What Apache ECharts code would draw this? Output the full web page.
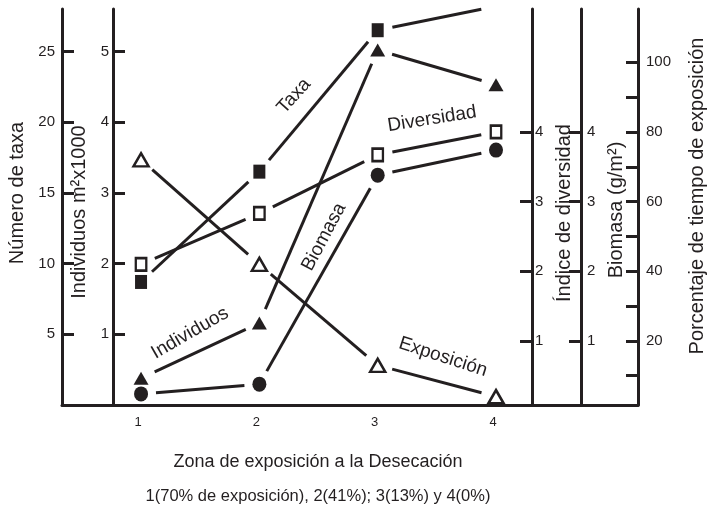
<!DOCTYPE html>
<html>
<head>
<meta charset="utf-8">
<script src="https://cdn.jsdelivr.net/npm/echarts@6/dist/echarts.min.js"></script>
<style>
  html, body { margin: 0; padding: 0; background: #fff; }
  #chart { width: 709px; height: 508px; }
</style>
</head>
<body>
<div id="chart"></div>
<script>
// Zonas de exposición (eje x)
const zonas = [1, 2, 3, 4];

// Valores
const taxa = [8.7, 16.5, 26.5, 28.2];          // Número de taxa
const individuos = [0.38, 1.16, 5.02, 4.53];   // Individuos m2 x1000
const diversidad = [2.1, 2.83, 3.67, 4.0];     // Índice de diversidad
const biomasa = [0.24, 0.38, 3.38, 3.74];      // Biomasa (g/m2)
const exposicion = [72, 42, 13, 4];            // % tiempo de exposición

// Marcas de los ejes
const taxaTicks = [5, 10, 15, 20, 25];
const individuosTicks = [1, 2, 3, 4, 5];
const diversidadTicks = [1, 2, 3, 4];
const biomasaTicks = [1, 2, 3, 4];
const exposicionTicks = [10, 20, 30, 40, 50, 60, 70, 80, 90, 100];
const exposicionLabels = [20, 40, 60, 80, 100];

const ink = '#231f20';
const font = '"Liberation Sans", Arial, Helvetica, sans-serif';
const GAP = 15; // lines stop short of the markers

const chart = echarts.init(document.getElementById('chart'));

const pairs = values => zonas.map((z, i) => [z, values[i]]);

// one entry per plotted set: values, y axis, marker shape/size, filled or open
const sets = [
  { name: 'Taxa', values: taxa, y: 0, symbol: 'rect', size: [12, 14], filled: true },
  { name: 'Individuos', values: individuos, y: 1, symbol: 'triangle', size: [15, 13], filled: true },
  { name: 'Diversidad', values: diversidad, y: 2, symbol: 'rect', size: [10.5, 12.5], filled: false },
  { name: 'Biomasa', values: biomasa, y: 3, symbol: 'circle', size: [14, 15], filled: true },
  { name: 'Exposición', values: exposicion, y: 4, symbol: 'triangle', size: [15, 13], filled: false }
];

// segment from point i to point i+1, shortened at both ends
const renderSegment = (params, api) => {
  const j = params.dataIndexInside + 1;
  if (j >= params.dataInsideLength) return null;
  const a = api.coord([api.value(0), api.value(1)]);
  const b = api.coord([api.value(0, j), api.value(1, j)]);
  const dx = b[0] - a[0], dy = b[1] - a[1];
  const len = Math.hypot(dx, dy);
  const ux = dx / len, uy = dy / len;
  let x1 = a[0] + ux * GAP, y1 = a[1] + uy * GAP;
  let x2 = b[0] - ux * GAP, y2 = b[1] - uy * GAP;
  // cut at the top of the plot (Taxa runs off the top)
  const top = params.coordSys.y;
  if (y2 < top) {
    const t = (top - y1) / (y2 - y1);
    x2 = x1 + (x2 - x1) * t;
    y2 = top;
  }
  return {
    type: 'line',
    shape: { x1, y1, x2, y2 },
    style: { stroke: ink, lineWidth: 3 }
  };
};

const lineSeries = sets.map(s => ({
  name: s.name, type: 'custom', yAxisIndex: s.y, data: pairs(s.values),
  encode: { x: 0, y: 1 }, renderItem: renderSegment, silent: true, z: 2
}));
const markerSeries = sets.map(s => ({
  name: s.name, type: 'scatter', yAxisIndex: s.y, data: pairs(s.values),
  symbol: s.symbol, symbolSize: s.size,
  itemStyle: s.filled
    ? { color: ink, opacity: 1 }
    : { color: '#fff', borderColor: ink, borderWidth: 2.5, opacity: 1 },
  z: 3
}));

// y axis factory
const yAxisOf = (o) => ({
  type: 'value',
  position: o.position,
  offset: o.offset,
  min: o.min,
  max: o.max,
  splitLine: { show: false },
  axisLine: { show: true, onZero: false, lineStyle: { color: ink, width: 3 } },
  axisTick: {
    show: true, inside: true, length: 12, customValues: o.ticks,
    lineStyle: { color: ink, width: 3 }
  },
  axisLabel: {
    color: ink, fontSize: 15, fontFamily: font, margin: o.margin,
    customValues: o.labels || o.ticks
  },
  name: o.name,
  nameLocation: 'middle',
  nameRotate: 90,
  nameGap: o.nameGap,
  nameTextStyle: { color: ink, fontSize: 20, fontFamily: font, padding: o.pad || 0 }
});

const textStyle = (text, size) => ({
  text, fontSize: size, fontFamily: font, fill: ink,
  textAlign: 'center', textVerticalAlign: 'middle',
  align: 'center', verticalAlign: 'middle'
});

const deg = d => d * Math.PI / 180;

const option = {
  animation: false,
  backgroundColor: '#fff',
  grid: { left: 62, right: 71, top: 9, bottom: 103, outerBoundsMode: 'none' },
  xAxis: {
    type: 'value',
    min: 0.332,
    max: 5.2,
    splitLine: { show: false },
    axisLine: { show: true, onZero: false, lineStyle: { color: ink, width: 3 } },
    axisTick: { show: false },
    axisLabel: {
      color: ink, fontSize: 13, fontFamily: font, margin: 11,
      padding: [0, 6, 0, 0], customValues: zonas
    }
  },
  yAxis: [
    yAxisOf({ position: 'left', offset: 0, min: 0, max: 28, ticks: taxaTicks, margin: 7,
      name: 'Número de taxa', nameGap: 35, pad: [0, 0, 0, 28] }),
    yAxisOf({ position: 'left', offset: -51, min: 0, max: 5.6, ticks: individuosTicks, margin: 4,
      name: 'Individuos m²x1000', nameGap: 14, pad: [0, 10, 0, 0] }),
    yAxisOf({ position: 'right', offset: -106, min: 0.081, max: 5.765, ticks: diversidadTicks, margin: 3,
      name: 'Índice de diversidad', nameGap: 19, pad: [0, 12, 0, 0] }),
    yAxisOf({ position: 'right', offset: -57, min: 0.081, max: 5.765, ticks: biomasaTicks, margin: 6,
      name: 'Biomasa (g/m²)', nameGap: 22, pad: [0, 6, 0, 0] }),
    yAxisOf({ position: 'right', offset: 0, min: 1.6, max: 115.3, ticks: exposicionTicks,
      labels: exposicionLabels, margin: 8,
      name: 'Porcentaje de tiempo de exposición', nameGap: 49, pad: [0, 0, 0, 22] })
  ],
  series: [...lineSeries, ...markerSeries],
  graphic: [
    // labels along the lines
    { type: 'text', x: 294, y: 96, rotation: deg(48), style: textStyle('Taxa', 19) },
    { type: 'text', x: 432, y: 119, rotation: deg(9), style: textStyle('Diversidad', 19) },
    { type: 'text', x: 324, y: 237, rotation: deg(62), style: textStyle('Biomasa', 19) },
    { type: 'text', x: 190, y: 333, rotation: deg(30), style: textStyle('Individuos', 19) },
    { type: 'text', x: 443, y: 357, rotation: deg(-18), style: textStyle('Exposición', 19) },
    // x axis caption
    { type: 'text', x: 318, y: 462, style: textStyle('Zona de exposición a la Desecación', 18) },
    { type: 'text', x: 318, y: 496, style: textStyle('1(70% de exposición), 2(41%); 3(13%) y 4(0%)', 16.5) }
  ]
};

chart.setOption(option);
</script>
</body>
</html>
